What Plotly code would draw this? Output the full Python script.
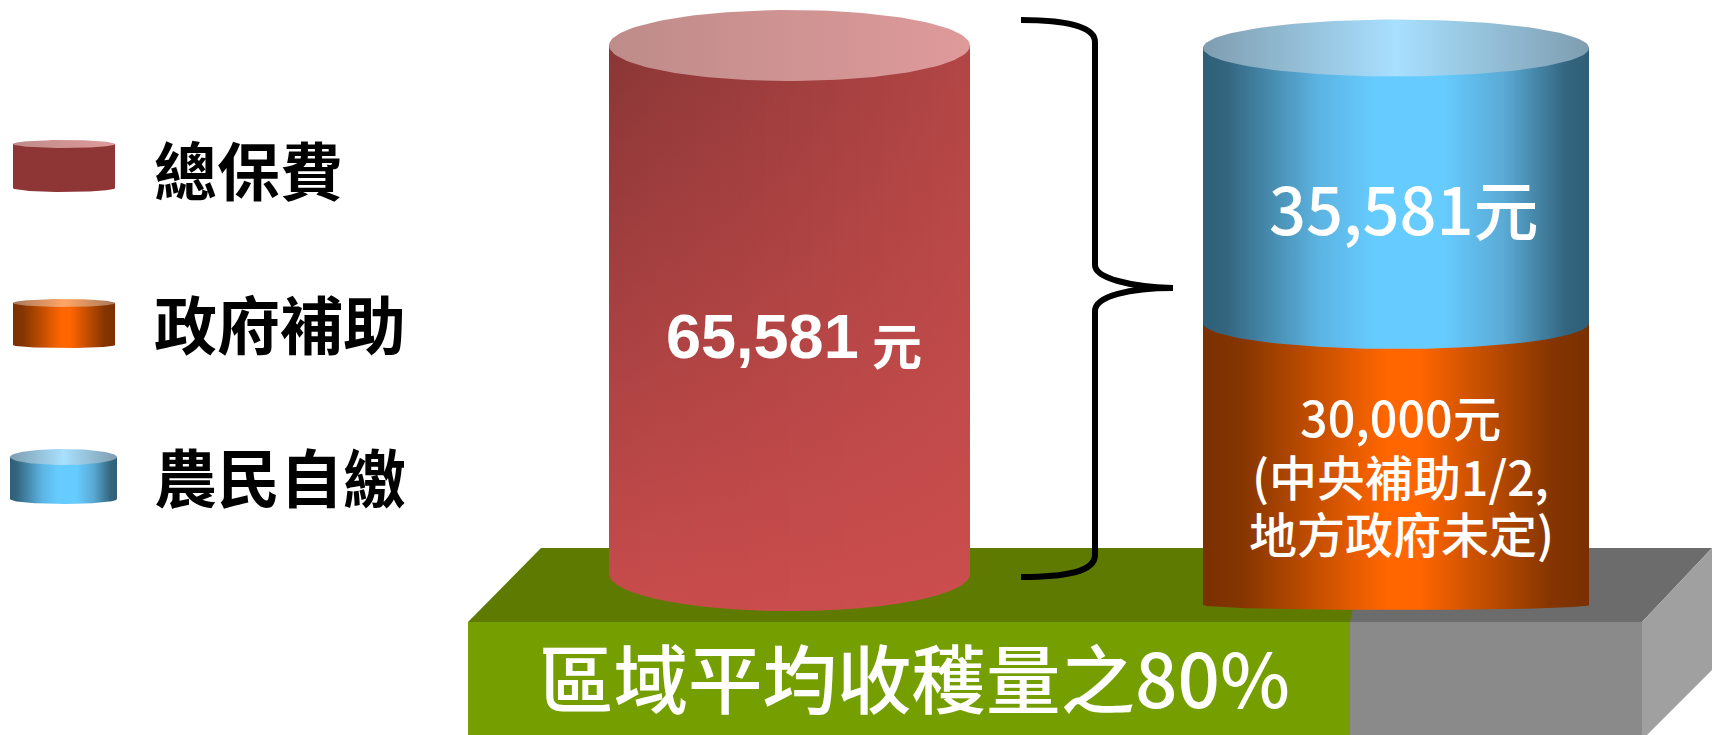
import numpy as np
import plotly.graph_objects as go

W, H = 1712, 735

# ---- data ----
legend_labels = ["總保費", "政府補助", "農民自繳"]
total_label = "65,581"
unit_label = "元"
farmer_label = "35,581元"
gov_lines = ["30,000元", "(中央補助1/2,", "地方政府未定)"]
base_label = "區域平均收穫量之80%"

# ---- styling ----
RED_CORNERS = dict(tl=(0x8A, 0x36, 0x36), tr=(0xB2, 0x45, 0x45), bl=(0xC8, 0x4C, 0x4C), br=(0xCC, 0x4D, 0x4D))
RED_TOP = [[0, "#BE8C8A"], [1, "#DF9A9A"]]
BLUE_SIDE = [[0, "#2F5F78"], [0.06, "#33657F"], [0.3, "#5CB4E2"], [0.45, "#66CCFF"], [0.62, "#66CCFF"],
             [0.78, "#5AAAD5"], [0.94, "#33657F"], [1, "#2F5F78"]]
BLUE_TOP = [[0, "#7F9DB0"], [0.2, "#8FB8CF"], [0.5, "#A8E0FF"], [0.8, "#8FB8CF"], [1, "#7F9DB0"]]
ORANGE_SIDE = [[0, "#7A3000"], [0.1, "#853500"], [0.4, "#E85D00"], [0.48, "#FF6600"], [0.56, "#FF6600"],
               [0.9, "#853500"], [1, "#7A3000"]]
ORANGE_TOP = [[0, "#A87A5A"], [0.5, "#FFA566"], [1, "#A87A5A"]]
FONT = "Noto Sans CJK TC"

fig = go.Figure()


def poly(xs, ys, color=None, gradient=None):
    kw = dict(fillgradient=gradient) if gradient else dict(fillcolor=color)
    fig.add_trace(go.Scatter(x=list(xs), y=list(ys), mode="lines", fill="toself",
                             line=dict(width=0), hoverinfo="skip", showlegend=False, **kw))


def hgrad(scale):
    return dict(type="horizontal", colorscale=scale)


def cap(cx, rx, cy, ry, scale):
    t = np.linspace(0, 2 * np.pi, 140)
    poly(cx + rx * np.cos(t), cy + ry * np.sin(t), gradient=hgrad(scale))


def side_path(cx, rx, top, bottom, ry_bot):
    t = np.linspace(0, np.pi, 70)
    xb = cx + rx * np.cos(t)
    yb = bottom + ry_bot * np.sin(t)
    return np.r_[xb, cx - rx, cx + rx, xb[0]], np.r_[yb, top, top, yb[0]]


def rgb(c):
    return "rgb(%d,%d,%d)" % tuple(int(round(v)) for v in c)


def diagonal_side(cx, rx, top, bottom, ry_bot, corners, strips=46):
    """Cylinder wall with a corner-to-corner shade, painted as overlapping vertical strips."""
    edges = np.linspace(cx - rx, cx + rx, strips + 1)
    full = bottom + ry_bot - top
    for a, b in zip(edges[:-1], edges[1:]):
        b2 = min(b + 1.2, cx + rx)
        xs = np.linspace(a, b2, 6)
        ys = bottom + ry_bot * np.sqrt(np.clip(1 - ((xs - cx) / rx) ** 2, 0, 1))
        u = ((a + b) / 2 - (cx - rx)) / (2 * rx)
        low = ys.max()
        v = (low - top) / full
        c_top = [(1 - u) * p + u * q for p, q in zip(corners["tl"], corners["tr"])]
        c_bot = [(1 - u) * p + u * q for p, q in zip(corners["bl"], corners["br"])]
        c_low = [(1 - v) * p + v * q for p, q in zip(c_top, c_bot)]
        poly(np.r_[xs, b2, a, xs[0]], np.r_[ys, top, top, ys[0]],
             gradient=dict(type="vertical", colorscale=[[0, rgb(c_low)], [1, rgb(c_top)]]))


# platform
poly([1300, 1420, 1712, 1642, 1300], [622, 548, 548, 622, 622], "#6C6C6C")
poly([468, 541, 1365, 1350, 468], [622, 548, 548, 622, 622], "#5F7A00")
poly([468, 1350, 1350, 468, 468], [622, 622, 735, 735, 622], "#759E00")
poly([1350, 1642, 1642, 1350, 1350], [622, 622, 735, 735, 622], "#8A8A8A")
poly([1642, 1712, 1712, 1642, 1642], [622, 548, 670, 740, 622], "#A0A0A0")

# big red cylinder
diagonal_side(789.5, 180.5, 45, 574, 37, RED_CORNERS)
cap(789.5, 180.5, 45.5, 35.5, RED_TOP)

# stacked cylinder: orange then blue
x, y = side_path(1396, 193, 323, 605, 5)
poly(x, y, gradient=hgrad(ORANGE_SIDE))
x, y = side_path(1396, 193, 48, 323, 26)
poly(x, y, gradient=hgrad(BLUE_SIDE))
cap(1396, 193, 48, 28.5, BLUE_TOP)

# legend cylinders
x, y = side_path(64, 51, 144, 188, 4)
poly(x, y, "#8E3536")
cap(64, 51, 144, 4, RED_TOP)
x, y = side_path(64, 51, 303, 345, 3)
poly(x, y, gradient=hgrad(ORANGE_SIDE))
cap(64, 51, 303, 4, ORANGE_TOP)
x, y = side_path(63.5, 53.5, 457, 499, 5)
poly(x, y, gradient=hgrad(BLUE_SIDE))
cap(63.5, 53.5, 457, 8, BLUE_TOP)

# brace
brace = ("M 1021,20 C 1065,20 1095,26 1095,42 L 1095,265 "
         "C 1095,278 1130,287 1173,288 C 1130,288 1095,296 1095,311 L 1095,555 "
         "C 1095,572 1065,577 1021,577")
fig.add_shape(type="path", path=brace, line=dict(color="black", width=6), layer="above")


def txt(x, y, s, size, color="white", weight=500, anchor="center", family=FONT):
    fig.add_annotation(x=x, y=y, text=s, showarrow=False,
                       xanchor=anchor, yanchor="middle", xref="x", yref="y",
                       font=dict(family=family, size=size, color=color, weight=weight))


for label, yy in zip(legend_labels, [167, 321, 474]):
    txt(152, yy, label, 63, "black", 700, "left")

txt(762, 336, total_label, 63, "white", 700, "center", "Liberation Sans")
txt(897, 343, unit_label, 50, "white", 700)
txt(1404, 207, farmer_label, 65)
txt(1400, 416, gov_lines[0], 48.5)
txt(1400, 475, gov_lines[1], 48)
txt(1401, 532, gov_lines[2], 48)
txt(914, 675, base_label, 74.5)

fig.update_layout(
    width=W, height=H, autosize=False,
    margin=dict(l=0, r=0, t=0, b=0),
    paper_bgcolor="white", plot_bgcolor="white",
    xaxis=dict(range=[0, W], visible=False, fixedrange=True),
    yaxis=dict(range=[H, 0], visible=False, fixedrange=True),
    showlegend=False,
)
fig.write_html("out.html", config=dict(displayModeBar=False),
               post_script="document.body.style.margin='0';document.documentElement.style.overflow='hidden';")
